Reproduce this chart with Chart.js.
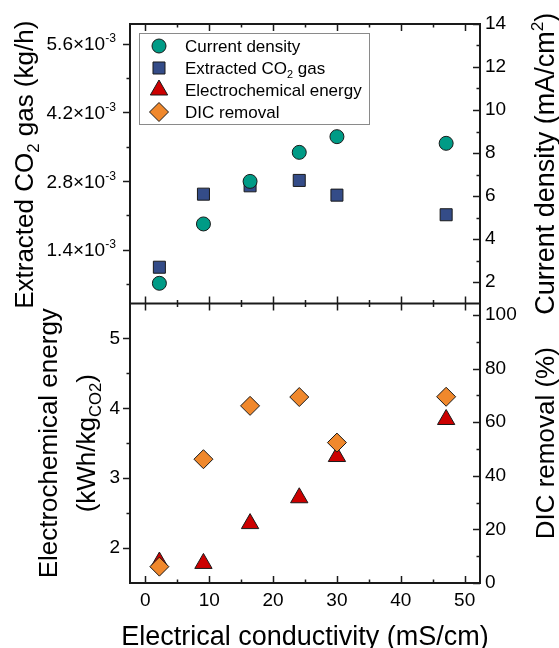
<!DOCTYPE html>
<html>
<head>
<meta charset="utf-8">
<title>CO2 extraction vs conductivity</title>
<script src="https://cdn.jsdelivr.net/npm/chart.js@4.4.0/dist/chart.umd.min.js"></script>
<style>
  html, body { margin: 0; padding: 0; background: #fff; }
</style>
</head>
<body>
<canvas id="chart" width="559" height="648"></canvas>
<script>
// measured runs, x = electrical conductivity (mS/cm)
const conductivity = [2.2, 9.1, 16.4, 24.1, 30.0, 47.1];
const currentDensity = [1.94, 4.70, 6.68, 8.03, 8.76, 8.45];                  // mA/cm2
const extractedCO2 = [1.04e-3, 2.53e-3, 2.70e-3, 2.81e-3, 2.51e-3, 2.11e-3];  // kg/h
const energy = [1.80, 1.78, 2.35, 2.72, 3.31, 3.84];                          // kWh/kgCO2
const dicRemoval = [6.1, 46.2, 66.1, 69.4, 52.4, 69.5];                       // %

// tick labels
const xTicks = [0, 10, 20, 30, 40, 50];
const co2Ticks = [1.4e-3, 2.8e-3, 4.2e-3, 5.6e-3];
const cdTicks = [2, 4, 6, 8, 10, 12, 14];
const energyTicks = [2, 3, 4, 5];
const dicTicks = [0, 20, 40, 60, 80, 100];

const FONT = "'Liberation Sans', Arial, Helvetica, sans-serif";
const INK = '#1a1a1a';
Chart.defaults.font.family = FONT;
Chart.defaults.color = '#000';

function points(ys) {
    return conductivity.map((x, i) => ({ x: x, y: ys[i] }));
}

// minor ticks sit halfway between the majors
function minorTicks(majors, min, max) {
    const step = majors[1] - majors[0];
    const eps = step * 1e-6;
    const out = [];
    majors.forEach(v => {
        [v - step / 2, v + step / 2].forEach(m => {
            if (m > min + eps && m < max - eps && !out.some(o => Math.abs(o - m) < eps)) out.push(m);
        });
    });
    return out;
}

function yAxis(position, min, max, majors, padding, width) {
    return {
        type: 'linear',
        position: position,
        stack: 'panels',
        stackWeight: 1,
        min: min,
        max: max,
        grid: { display: false, drawTicks: false },
        border: { display: false },
        ticks: { font: { size: 19 }, color: '#000', padding: padding, callback: v => String(v) },
        afterBuildTicks: s => { s.ticks = majors.map(v => ({ value: v })); },
        afterFit: s => { s.width = width; }
    };
}

// text with sub/superscript pieces: parts = [[text, 'sub'|'sup'|null], ...]
function richText(c, parts, x, y, size, align) {
    const fonts = parts.map(p => (p[1] ? size * 0.64 : size) + 'px ' + FONT);
    const widths = parts.map((p, i) => { c.font = fonts[i]; return c.measureText(p[0]).width; });
    const total = widths.reduce((a, b) => a + b, 0);
    let cx = align === 'center' ? x - total / 2 : align === 'right' ? x - total : x;
    c.textAlign = 'left';
    c.textBaseline = 'alphabetic';
    parts.forEach((p, i) => {
        c.font = fonts[i];
        const dy = p[1] === 'sub' ? size * 0.22 : p[1] === 'sup' ? -size * 0.42 : 0;
        c.fillText(p[0], cx, y + dy);
        cx += widths[i];
    });
}

function verticalText(c, parts, x, y, size) {
    c.save();
    c.translate(x, y);
    c.rotate(-Math.PI / 2);
    richText(c, parts, 0, 0, size, 'center');
    c.restore();
}

// frame, tick marks, axis titles and the exponent labels
const framePlugin = {
    id: 'frame',
    afterDraw(chart) {
        const c = chart.ctx;
        const a = chart.chartArea;
        const sx = chart.scales.x;
        const sCO2 = chart.scales.yCO2, sCD = chart.scales.yCD;
        const sEn = chart.scales.yEnergy, sDIC = chart.scales.yDIC;
        const mid = sCO2.bottom;
        const MAJ = 7, MIN = 3.5;

        c.save();
        c.strokeStyle = INK;
        c.lineCap = 'butt';
        c.lineWidth = 1.5;
        c.beginPath();
        const xMinor = minorTicks(xTicks, sx.min, sx.max);
        [[xTicks, MAJ], [xMinor, MIN]].forEach(([vals, len]) => {
            vals.forEach(v => {
                const px = Math.round(sx.getPixelForValue(v)) + 0.5;
                c.moveTo(px, a.top); c.lineTo(px, a.top + len);
                c.moveTo(px, mid - len); c.lineTo(px, mid + len);
                c.moveTo(px, a.bottom); c.lineTo(px, a.bottom - len);
            });
        });
        // left axes: ticks point outward
        [[sCO2, co2Ticks], [sEn, energyTicks]].forEach(([s, majors]) => {
            [[majors, MAJ], [minorTicks(majors, s.min, s.max), MIN]].forEach(([vals, len]) => {
                vals.forEach(v => {
                    const py = Math.round(s.getPixelForValue(v)) + 0.5;
                    c.moveTo(a.left, py); c.lineTo(a.left - len, py);
                });
            });
        });
        // right axes: ticks point inward
        [[sCD, cdTicks], [sDIC, dicTicks]].forEach(([s, majors]) => {
            [[majors, MAJ], [minorTicks(majors, s.min, s.max), MIN]].forEach(([vals, len]) => {
                vals.forEach(v => {
                    const py = Math.round(s.getPixelForValue(v)) + 0.5;
                    c.moveTo(a.right, py); c.lineTo(a.right - len, py);
                });
            });
        });
        c.stroke();

        c.lineWidth = 2;
        c.strokeRect(a.left, a.top, a.right - a.left, a.bottom - a.top);
        c.beginPath();
        c.moveTo(a.left, mid); c.lineTo(a.right, mid);
        c.stroke();

        c.fillStyle = '#000';
        // kg/h labels written as mantissa x 10^-3
        co2Ticks.forEach(v => {
            const py = sCO2.getPixelForValue(v);
            richText(c, [[(v * 1000).toFixed(1) + '\u00d710', null], ['-3', 'sup']], 116, py + 6.8, 19, 'right');
        });

        verticalText(c, [['Extracted CO', null], ['2', 'sub'], [' gas (kg/h)', null]], 33, (a.top + mid) / 2 + 1, 26);
        verticalText(c, [['Electrochemical energy', null]], 57, (mid + a.bottom) / 2, 26);
        verticalText(c, [['(kWh/kg', null], ['CO', 'sub'], ['2', 'sub'], [')', null]], 95, (mid + a.bottom) / 2, 26);
        verticalText(c, [['Current density (mA/cm', null], ['2', 'sup'], [')', null]], 554, (a.top + mid) / 2, 27);
        verticalText(c, [['DIC removal (%)', null]], 554, (mid + a.bottom) / 2, 26);
        richText(c, [['Electrical conductivity (mS/cm)', null]], (a.left + a.right) / 2, 645, 27, 'center');
        c.restore();
    }
};

// legend box in the upper panel
const legendPlugin = {
    id: 'boxLegend',
    afterDraw(chart) {
        const c = chart.ctx;
        const names = [
            [['Current density', null]],
            [['Extracted CO', null], ['2', 'sub'], [' gas', null]],
            [['Electrochemical energy', null]],
            [['DIC removal', null]]
        ];
        c.save();
        c.fillStyle = '#fff';
        c.fillRect(139.5, 33.5, 230, 91);
        c.strokeStyle = '#8a8a8a';
        c.lineWidth = 1;
        c.strokeRect(139.5, 33.5, 230, 91);
        chart.data.datasets.forEach((ds, i) => {
            const y = 46 + i * 22;
            c.fillStyle = ds.backgroundColor;
            c.strokeStyle = ds.borderColor;
            c.lineWidth = ds.borderWidth;
            Chart.helpers.drawPoint(c, { pointStyle: ds.pointStyle, radius: ds.pointRadius, rotation: 0, borderWidth: ds.borderWidth }, 159, y);
            c.fillStyle = '#000';
            richText(c, names[i], 185, y + 6, 17, 'left');
        });
        c.restore();
    }
};

const ctx = document.querySelector('#chart').getContext('2d');
const chart = new Chart(ctx, {
    type: 'scatter',
    data: {
        datasets: [
            {
                label: 'Current density',
                data: points(currentDensity),
                yAxisID: 'yCD',
                pointStyle: 'circle',
                pointRadius: 7,
                backgroundColor: '#009b86',
                borderColor: INK,
                borderWidth: 1,
                order: 0
            },
            {
                label: 'Extracted CO2 gas',
                data: points(extractedCO2),
                yAxisID: 'yCO2',
                pointStyle: 'rect',
                pointRadius: 8.5,
                backgroundColor: '#344c88',
                borderColor: INK,
                borderWidth: 1,
                order: 1
            },
            {
                label: 'Electrochemical energy',
                data: points(energy),
                yAxisID: 'yEnergy',
                pointStyle: 'triangle',
                pointRadius: 10,
                backgroundColor: '#cc0000',
                borderColor: INK,
                borderWidth: 1,
                order: 3
            },
            {
                label: 'DIC removal',
                data: points(dicRemoval),
                yAxisID: 'yDIC',
                pointStyle: 'rectRot',
                pointRadius: 9.5,
                backgroundColor: '#f0882c',
                borderColor: INK,
                borderWidth: 1,
                order: 2
            }
        ]
    },
    options: {
        responsive: false,
        animation: false,
        events: [],
        layout: { padding: { top: 24, left: 0, right: 0, bottom: 0 } },
        plugins: {
            legend: { display: false },
            tooltip: { enabled: false }
        },
        scales: {
            x: {
                type: 'linear',
                position: 'bottom',
                min: -2.4,
                max: 52.4,
                grid: { display: false, drawTicks: false },
                border: { display: false },
                ticks: { font: { size: 19 }, color: '#000', padding: 6, callback: v => String(v) },
                afterBuildTicks: s => { s.ticks = xTicks.map(v => ({ value: v })); },
                afterFit: s => { s.height = 65; }
            },
            yEnergy: yAxis('left', 1.5, 5.5, energyTicks, 10, 130),
            yCD: yAxis('right', 1, 14, cdTicks, 5, 79),
            yCO2: Object.assign(yAxis('left', 0.3e-3, 6.0e-3, co2Ticks, 10, 130), { ticks: { display: false } }),
            yDIC: yAxis('right', 0, 104.3, dicTicks, 5, 79)
        }
    },
    plugins: [framePlugin, legendPlugin]
});
</script>
</body>
</html>
